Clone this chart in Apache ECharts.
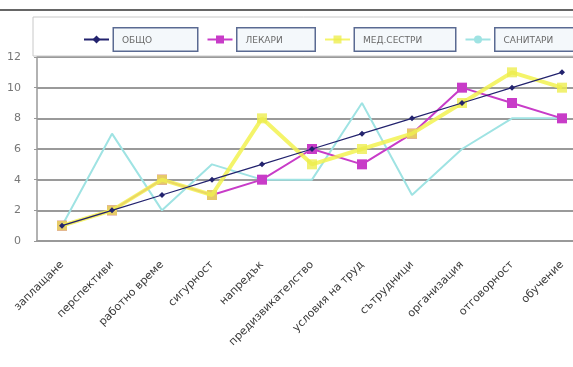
<!DOCTYPE html>
<html>
<head>
<meta charset="utf-8">
<script src="https://cdn.jsdelivr.net/npm/echarts@6/dist/echarts.min.js"></script>
<style>html,body{margin:0;padding:0;background:#fff}#c{width:573px;height:367px}</style>
</head>
<body>
<div id="c"></div>
<script>
const categories = ['заплащане','перспективи','работно време','сигурност','напредък','предизвикателство','условия на труд','сътрудници','организация','отговорност','обучение'];
const obshto   = [1,2,3,4,5,6,7,8,9,10,11];
const lekari   = [1,2,4,3,4,6,5,7,10,9,8];
const medSestri= [1,2,4,3,8,5,6,7,9,11,10];
const sanitari = [1,7,2,5,4,4,9,3,6,8,8];
const seriesNames = ['ОБЩО','ЛЕКАРИ','МЕД.СЕСТРИ','САНИТАРИ'];
const yTicks = [0,2,4,6,8,10,12];

const chart = echarts.init(document.getElementById('c'), null, {renderer:'canvas'});
const boxW = [71, 65, 88, 71];
const rich = {};
seriesNames.forEach((n,i)=>{
  rich['a'+i] = {width: boxW[i], height: 18, lineHeight:18, padding:[3,4,1,8], borderColor:'#5a6a92', borderWidth:1.5,
    backgroundColor:'#f4f8fb', color:'#6a6a6a', fontSize:9, fontFamily:'DejaVu Sans'};
});
chart.setOption({
  animation:false,
  graphic:[{type:'line', shape:{x1:0,y1:10,x2:573,y2:10}, style:{stroke:'#666', lineWidth:2}}],
  legend:{
    data: seriesNames,
    left:33, top:17, width:620,
    padding:[10,0,4,50],
    itemGap:8,
    itemWidth:25, itemHeight:10,
    borderColor:'#c8c8c8', borderWidth:1,
    formatter: n => '{a'+seriesNames.indexOf(n)+'|'+n+'}',
    textStyle:{rich: rich}
  },
  grid:{left:37, top:57, width:550, height:184, outerBoundsMode:'none', containLabel:false},
  xAxis:{
    type:'category', data:categories, boundaryGap:true,
    axisLine:{lineStyle:{color:'#999', width:2}},
    axisTick:{lineStyle:{color:'#999'}, length:4},
    axisLabel:{rotate:45, interval:0, color:'#3a3a3a', fontSize:11, fontFamily:'DejaVu Sans', margin:22}
  },
  yAxis:{
    type:'value', min:0, max:12, interval:2,
    axisLine:{show:true, lineStyle:{color:'#999', width:1.5}},
    axisTick:{show:true, length:3, lineStyle:{color:'#999'}},
    axisLabel:{color:'#777', fontSize:11, fontFamily:'DejaVu Sans', margin:16, formatter: v => yTicks.includes(v) ? String(v) : ''},
    splitLine:{lineStyle:{color:'#9a9a9a', width:2}}
  },
  series:[
    {name:'ОБЩО', type:'line', data:obshto, z:5, symbol:'diamond', symbolSize:6,
      lineStyle:{color:'#23236e', width:1.2}, itemStyle:{color:'#23236e'}},
    {name:'ЛЕКАРИ', type:'line', data:lekari, z:2, symbol:'rect', symbolSize:10,
      lineStyle:{color:'#c83cc8', width:2}, itemStyle:{color:'#c83cc8'}},
    {name:'МЕД.СЕСТРИ', type:'line', data:medSestri, z:3, symbol:'rect', symbolSize:10,
      lineStyle:{color:'#f2f250', width:4, opacity:0.85}, itemStyle:{color:'#eeee50', opacity:0.8}},
    {name:'САНИТАРИ', type:'line', data:sanitari, z:1, symbol:'none',
      lineStyle:{color:'#9fe3e3', width:2}, itemStyle:{color:'#9fe3e3'}}
  ]
});
</script>
</body>
</html>
